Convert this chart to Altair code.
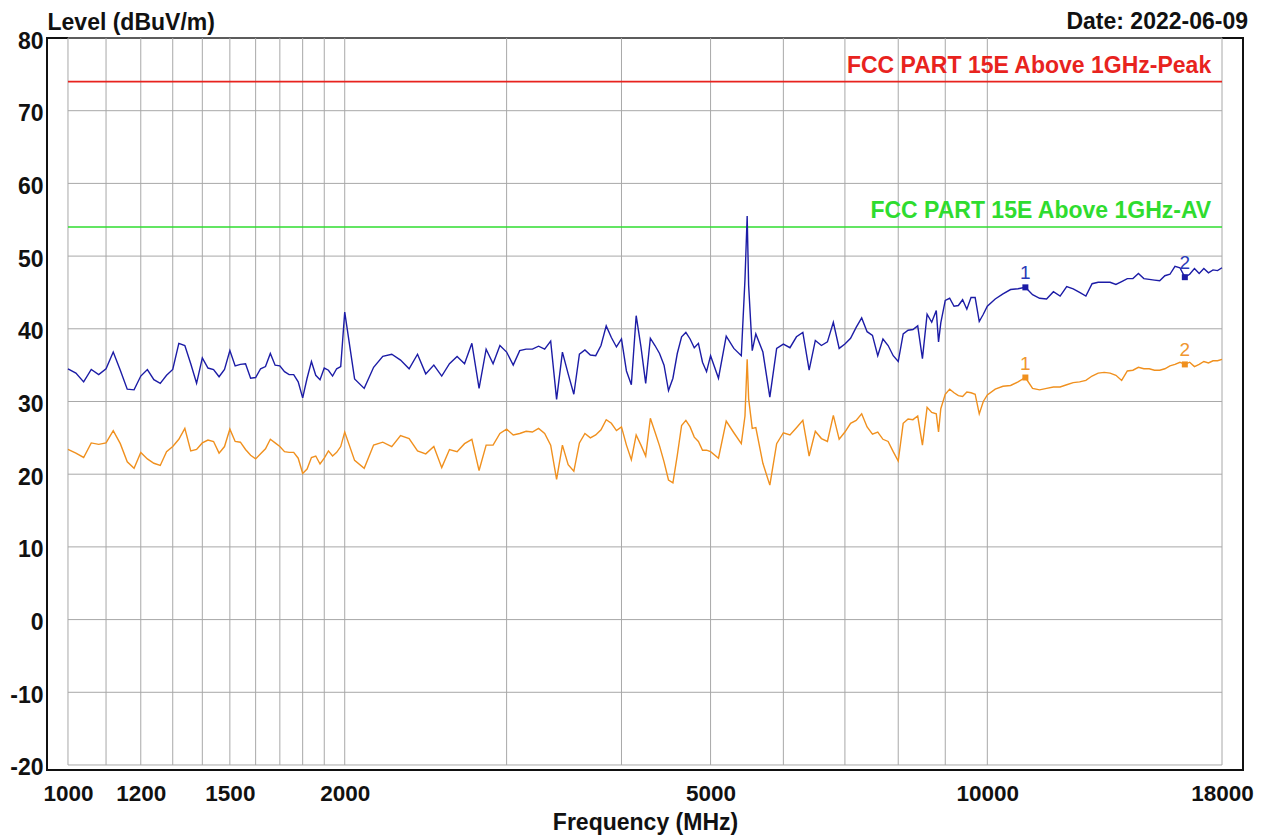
import altair as alt
import pandas as pd

# ---------------- data ----------------
freq = [
    1000, 1020, 1040, 1060, 1080, 1100, 1120, 1140, 1160, 1180,
    1200, 1220, 1240, 1260, 1280, 1300, 1320, 1340, 1360, 1380,
    1400, 1420, 1440, 1460, 1480, 1500, 1520, 1540, 1560, 1580,
    1600, 1620, 1640, 1660, 1680, 1700, 1720, 1740, 1760, 1780,
    1800, 1820, 1840, 1860, 1880, 1900, 1920, 1940, 1960, 1980,
    2000,
    2050, 2100, 2150, 2200, 2250, 2300, 2350, 2400, 2450, 2500,
    2550, 2600, 2650, 2700, 2750, 2800, 2850, 2900, 2950, 3000,
    3050, 3100, 3150, 3200, 3250, 3300, 3350, 3400, 3450, 3500,
    3550, 3600, 3650, 3700, 3750, 3800, 3850, 3900, 3950, 4000,
    4050, 4100, 4150, 4200, 4250, 4300, 4350, 4400, 4450, 4500,
    4550, 4600, 4650, 4700, 4750, 4800, 4850, 4900, 4950, 5000,
    5100, 5200, 5300, 5400, 5450, 5480, 5500, 5550, 5600, 5700,
    5800, 5900, 6000, 6100, 6200, 6300, 6400, 6500, 6600, 6700,
    6800, 6900, 7000, 7100, 7200, 7300, 7400, 7500, 7600, 7700,
    7800, 7900, 8000, 8100, 8200, 8300, 8400, 8500, 8600, 8700,
    8800, 8850, 8900, 9000, 9100, 9200, 9300, 9400, 9500, 9600,
    9700, 9800, 9900, 10000,
    10200, 10400, 10600, 10800, 11000, 11200, 11400, 11600, 11800, 12000,
    12200, 12400, 12600, 12800, 13000, 13200, 13400, 13600, 13800, 14000,
    14200, 14400, 14600, 14800, 15000, 15200, 15400, 15600, 15800, 16000,
    16200, 16400, 16600, 16800, 17000, 17200, 17400, 17600, 17800, 18000,
]

peak = [
    34.5, 33.9, 32.7, 34.4, 33.7, 34.5, 36.8, 34.3, 31.7, 31.6,
    33.5, 34.4, 33.0, 32.5, 33.6, 34.4, 38.0, 37.7, 35.2, 32.5,
    36.0, 34.6, 34.4, 33.4, 34.4, 37.0, 34.9, 35.1, 35.2, 33.2,
    33.3, 34.5, 34.8, 36.6, 35.0, 34.9, 34.1, 33.7, 33.7, 32.7,
    30.5, 33.2, 35.5, 33.6, 33.0, 34.6, 34.3, 33.5, 34.5, 34.8,
    42.3,
    33.1, 31.8, 34.7, 36.2, 36.5, 35.7, 34.5, 36.5, 33.8, 35.0,
    33.5, 35.2, 36.2, 35.2, 38.0, 31.8, 37.2, 35.2, 37.7, 36.8,
    35.0, 37.0, 37.2, 37.2, 37.6, 37.2, 38.3, 30.3, 36.8, 33.8,
    31.0, 36.5, 37.1, 36.4, 36.3, 37.7, 40.4, 38.8, 37.5, 38.6,
    34.2, 32.3, 41.8, 37.5, 32.5, 38.7, 37.7, 36.6, 35.0, 31.5,
    33.2, 36.6, 38.9, 39.5, 38.6, 37.4, 38.0, 35.4, 34.1, 36.3,
    33.2, 39.0, 37.3, 36.3, 46.8, 55.5, 46.0, 37.0, 39.3, 36.8,
    30.6, 37.3, 37.9, 37.4, 38.9, 39.5, 34.3, 38.4, 37.7, 38.2,
    40.9, 37.3, 37.9, 38.7, 40.2, 41.5, 39.6, 39.1, 36.3, 38.6,
    37.7, 36.3, 35.5, 39.3, 39.8, 39.9, 40.4, 35.9, 42.0, 40.9,
    42.5, 38.2, 40.8, 43.9, 44.2, 43.1, 43.2, 44.0, 42.7, 44.3,
    44.3, 41.0, 42.0, 43.1,
    44.1, 44.8, 45.4, 45.5, 45.7, 44.7, 44.2, 44.1, 45.1, 44.5,
    45.8, 45.5, 45.0, 44.5, 46.2, 46.4, 46.4, 46.4, 46.1, 46.5,
    46.9, 46.9, 47.6, 46.9, 46.8, 46.7, 46.6, 47.3, 47.5, 48.6,
    48.4, 47.1, 47.5, 48.3, 47.6, 48.3, 47.7, 48.1, 48.0, 48.4,
]

avg = [
    23.4, 22.9, 22.3, 24.3, 24.1, 24.3, 26.0, 24.2, 21.7, 20.8,
    23.0, 22.1, 21.5, 21.2, 23.1, 23.8, 24.8, 26.3, 23.2, 23.4,
    24.3, 24.7, 24.5, 22.9, 23.8, 26.2, 24.5, 24.4, 23.4, 22.6,
    22.1, 22.8, 23.5, 24.8, 24.3, 23.8, 23.1, 23.0, 23.0, 22.2,
    20.1, 20.7, 22.3, 22.5, 21.4, 22.2, 23.2, 22.5, 23.0, 23.8,
    25.8,
    21.9, 20.8, 24.0, 24.4, 23.8, 25.3, 24.9, 23.2, 22.8, 23.8,
    20.9, 23.4, 23.1, 24.2, 24.8, 20.5, 24.0, 24.0, 25.6, 26.2,
    25.4, 25.6, 25.9, 25.8, 26.3, 25.6, 24.0, 19.3, 24.0, 21.3,
    20.4, 24.3, 25.6, 25.0, 25.4, 26.1, 27.5, 27.0, 26.0, 26.5,
    24.0, 22.0, 25.4, 24.0, 22.5, 27.7, 25.8, 23.9, 21.7, 19.2,
    18.8, 22.6, 26.7, 27.4, 26.5, 25.1, 24.5, 23.3, 23.3, 23.1,
    22.2, 27.3, 25.7, 24.2, 28.0, 35.8, 30.4, 26.3, 26.4, 21.5,
    18.5, 24.2, 25.7, 25.4, 26.4, 27.4, 22.5, 25.9, 24.9, 24.5,
    28.1, 24.8, 25.8, 27.0, 27.4, 28.3, 26.5, 25.5, 25.8, 24.8,
    24.5, 23.1, 21.8, 27.0, 27.6, 27.5, 28.0, 24.0, 29.2, 28.5,
    28.3, 25.8, 29.0, 31.0, 31.7, 31.2, 30.8, 30.7, 31.3, 31.2,
    31.0, 28.3, 30.0, 30.9,
    31.7, 32.1, 32.2, 32.7, 33.3, 31.8, 31.6, 31.8, 32.0, 32.0,
    32.3, 32.6, 32.7, 32.9, 33.5, 33.9, 34.0, 33.9, 33.6, 32.9,
    34.2, 34.3, 34.7, 34.5, 34.5, 34.3, 34.3, 34.5, 34.9, 35.1,
    35.4, 35.1, 35.4, 34.8, 35.1, 35.5, 35.3, 35.6, 35.6, 35.8,
]

marker_freq = [11000, 16400]
marker_peak = [45.7, 47.1]
marker_avg = [33.3, 35.1]
marker_label = ["1", "2"]

x_ticks = [1000, 1200, 1500, 2000, 5000, 10000, 18000]
x_grid = [1000, 1100, 1200, 1300, 1400, 1500, 1600, 1700, 1800, 1900,
          2000, 3000, 4000, 5000, 6000, 7000, 8000, 9000, 10000, 18000]
y_ticks = [-20, -10, 0, 10, 20, 30, 40, 50, 60, 70, 80]

limit_level = [74, 54]
limit_name = ["FCC PART 15E Above 1GHz-Peak", "FCC PART 15E Above 1GHz-AV"]
limit_color = ["#e8231e", "#2fdc2f"]

# ---------------- chart ----------------
W, H = 1196, 732
FONT = "Liberation Sans"
BLUE = "#1c1ca6"
ORANGE = "#f0901e"
GRID = "#a8a8a8"

xs = alt.Scale(type="log", domain=[948.8, 18972], nice=False)
ys = alt.Scale(domain=[-20.69, 80], nice=False, zero=False)

xaxis = alt.Axis(values=x_ticks, labelExpr="'' + datum.value", grid=False,
                 ticks=False, tickSize=0, domain=False, labelFlush=False,
                 labelOverlap=False, labelPadding=12, labelFontSize=22.5,
                 labelFontWeight="bold", labelColor="#111111", labelFont=FONT,
                 title="Frequency (MHz)", titleFontSize=23, titleFontWeight="bold",
                 titleColor="#111111", titleFont=FONT, titleY=59,
                 titleBaseline="alphabetic")
yaxis = alt.Axis(values=y_ticks, labelExpr="'' + datum.value", grid=False,
                 ticks=False, tickSize=0, domain=False, labelOverlap=False,
                 labelPadding=4, labelOffset=3, labelFontSize=23,
                 labelFontWeight="bold", labelColor="#111111", labelFont=FONT,
                 title="Level (dBuV/m)", titleAngle=0, titleX=0, titleY=-9,
                 titleAlign="left", titleBaseline="alphabetic", titleFontSize=23,
                 titleFontWeight="bold", titleColor="#111111", titleFont=FONT)


def X(field):
    return alt.X(field, type="quantitative", scale=xs, axis=xaxis)


def Y(field):
    return alt.Y(field, type="quantitative", scale=ys, axis=yaxis)


vgrid_df = pd.DataFrame({"f": x_grid, "y0": [-20] * len(x_grid), "y1": [80] * len(x_grid)})
hgrid_df = pd.DataFrame({"lv": y_ticks, "x0": [1000] * len(y_ticks), "x1": [18000] * len(y_ticks)})
trace_df = pd.DataFrame({"freq": freq, "peak": peak, "avg": avg})
mark_df = pd.DataFrame({"f": marker_freq, "pk": marker_peak, "av": marker_avg, "lab": marker_label})
limit_df = pd.DataFrame({"lv": limit_level, "name": limit_name, "col": limit_color,
                         "x0": [1000, 1000], "x1": [18000, 18000], "xt": [17520, 17520]})

vgrid = alt.Chart(vgrid_df).mark_rule(color=GRID, strokeWidth=1).encode(
    x=X("f"), y=Y("y0"), y2="y1")
hgrid = alt.Chart(hgrid_df).mark_rule(color=GRID, strokeWidth=1).encode(
    y=Y("lv"), x=X("x0"), x2="x1")

limit_lines = alt.Chart(limit_df).mark_rule(strokeWidth=1.6).encode(
    y=Y("lv"), x=X("x0"), x2="x1", color=alt.Color("col:N", scale=None))
limit_text = alt.Chart(limit_df).mark_text(
    align="right", baseline="alphabetic", dy=-9, fontSize=23, fontWeight="bold",
    font=FONT).encode(x=X("xt"), y=Y("lv"), text="name:N",
                      color=alt.Color("col:N", scale=None))

avg_line = alt.Chart(trace_df).mark_line(color=ORANGE, strokeWidth=1.4).encode(
    x=X("freq"), y=Y("avg"))
peak_line = alt.Chart(trace_df).mark_line(color=BLUE, strokeWidth=1.4).encode(
    x=X("freq"), y=Y("peak"))

pk_sq = alt.Chart(mark_df).mark_square(size=36, color=BLUE, opacity=1).encode(
    x=X("f"), y=Y("pk"))
av_sq = alt.Chart(mark_df).mark_square(size=36, color=ORANGE, opacity=1).encode(
    x=X("f"), y=Y("av"))
pk_lab = alt.Chart(mark_df).mark_text(
    baseline="alphabetic", dy=-8, fontSize=19, font=FONT, color="#2a3ab8").encode(
    x=X("f"), y=Y("pk"), text="lab:N")
av_lab = alt.Chart(mark_df).mark_text(
    baseline="alphabetic", dy=-8, fontSize=19, font=FONT, color="#f0962e").encode(
    x=X("f"), y=Y("av"), text="lab:N")

date_df = pd.DataFrame({"t": ["Date: 2022-06-09"]})
date_text = alt.Chart(date_df).mark_text(
    align="right", baseline="alphabetic", fontSize=23, fontWeight="bold",
    font=FONT, color="#111111").encode(
    x=alt.value(W + 5), y=alt.value(-9), text="t:N")

chart = alt.layer(
    vgrid, hgrid, limit_lines, limit_text, avg_line, peak_line,
    av_sq, pk_sq, av_lab, pk_lab, date_text
).properties(
    width=W, height=H,
    autosize=alt.AutoSizeParams(type="none"),
    padding={"left": 39, "top": 30, "right": 16, "bottom": 66},
    background="white",
).configure_view(
    stroke="#111111", strokeWidth=2, fill="white"
)

chart.save("out.html", embed_options={"renderer": "svg", "actions": False})
